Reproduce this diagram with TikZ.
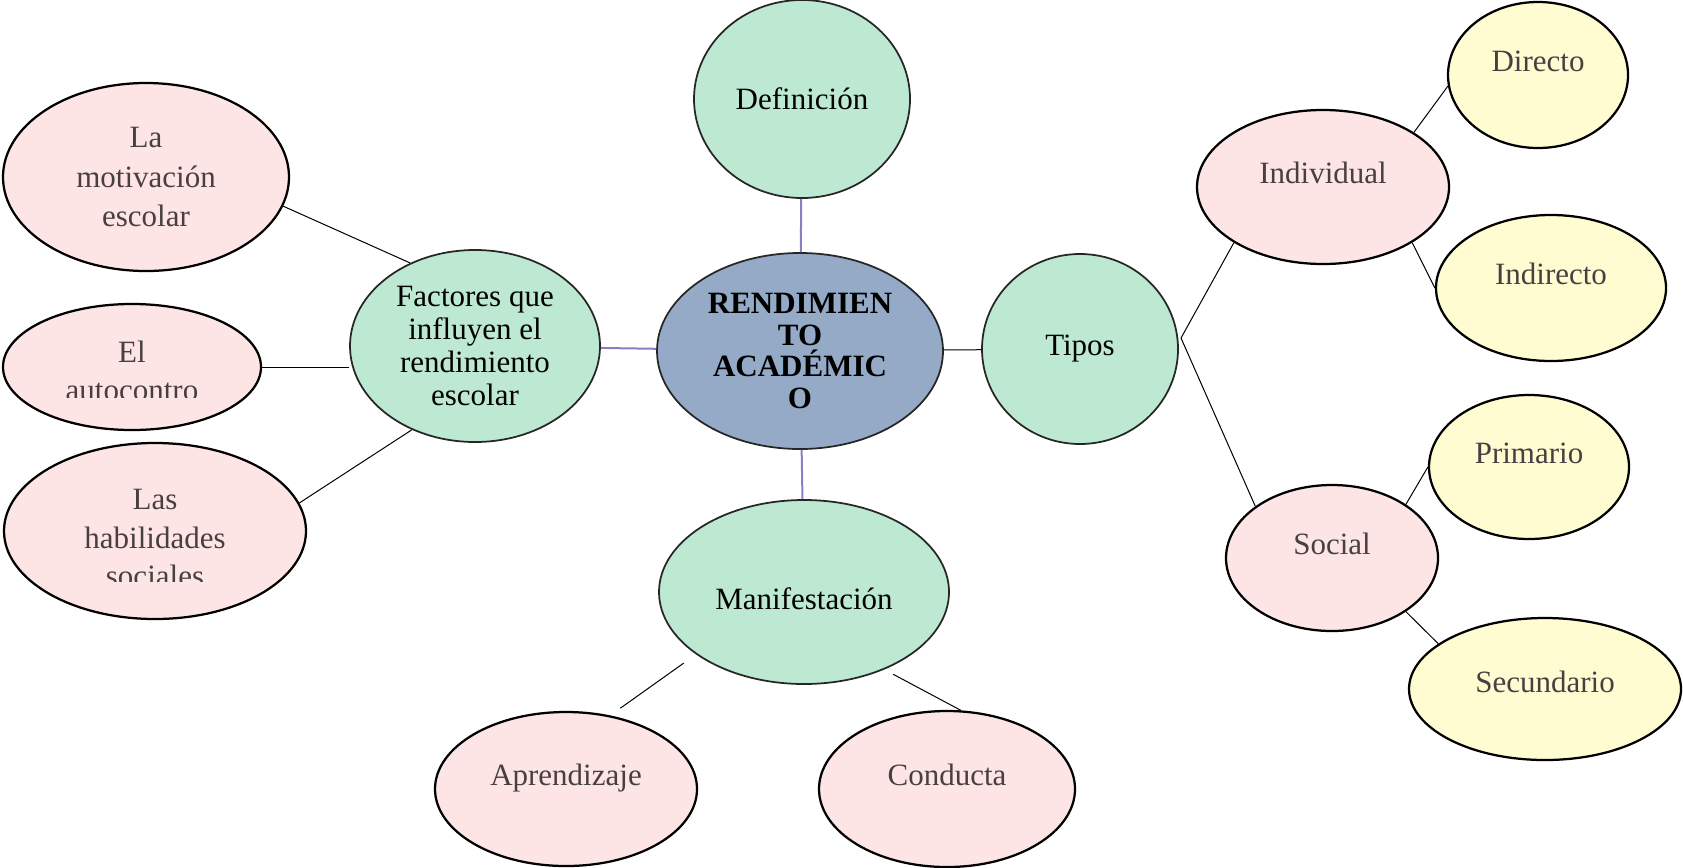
\documentclass[tikz,border=0pt]{standalone}
\usepackage{fontspec}
\setmainfont{Liberation Serif}
\usetikzlibrary{shapes.geometric}
\definecolor{hubblue}{RGB}{148,170,199}
\definecolor{topicgreen}{RGB}{189,232,210}
\definecolor{leafpink}{RGB}{253,229,230}
\definecolor{leafyellow}{RGB}{255,252,210}
\definecolor{leafgray}{RGB}{72,64,64}
\definecolor{linkpurple}{RGB}{142,124,195}

\begin{document}
\begin{tikzpicture}[
        x=0.4pt, y=-0.4pt,
        blob/.style={ellipse, inner sep=0pt, align=center, font=\fontsize{12.4}{13.2}\selectfont},
        hub/.style={blob, draw=black!85, line width=0.7pt, fill=hubblue, font=\bfseries\fontsize{12.4}{12.7}\selectfont},
        topic/.style={blob, draw=black!85, line width=0.7pt, fill=topicgreen},
        leaf/.style={blob, draw=black, line width=0.9pt, fill=leafpink, text=leafgray},
        subleaf/.style={leaf, fill=leafyellow},
        oneline/.style={text height=9pt, text depth=12pt},
        leaftext/.style={align=center, text=leafgray, inner sep=0pt, font=\fontsize{12.4}{15.5}\selectfont},
        link/.style={line width=0.4pt},
        mainlink/.style={line width=0.8pt, linkpurple}
    ]
    \useasboundingbox (0,0) rectangle (1683,867);

    % Centre and main topics
    \node[hub, minimum width=114.4pt, minimum height=78.4pt] (rend) at (800,351) {RENDIMIEN\\TO\\ACADÉMIC\\O};
    \node[topic, minimum width=86.4pt, minimum height=79.2pt] (def) at (802,99) {Definición};
    \node[topic, minimum width=78.4pt, minimum height=76pt] (tipos) at (1080,349) {Tipos};
    \node[topic, minimum width=100pt, minimum height=76.8pt] (fact) at (475,346) {Factores que\\influyen el\\rendimiento\\escolar};
    \node[topic, minimum width=116pt, minimum height=73.6pt, text height=14pt, text depth=0pt] (manif) at (804,592) {Manifestación};

    % Factores
    \node[leaf, minimum width=114.4pt, minimum height=75.2pt, font=\fontsize{12.4}{15.7}\selectfont] (motiv) at (146,177) {La\\motivación\\escolar};
    \node[leaf, minimum width=103.2pt, minimum height=50.4pt] (autoc) at (132,367) {};
    \node[leaf, minimum width=120.8pt, minimum height=70.4pt] (habil) at (155,531) {};
    \begin{scope}
        \clip (0,300) rectangle (300,397.5);
        \node[leaftext] (autotxt) at (132,371) {El\\autocontro};
    \end{scope}
    \begin{scope}
        \clip (0,450) rectangle (320,581);
        \node[leaftext] (habtxt) at (155,538) {Las\\habilidades\\sociales};
    \end{scope}

    % Manifestación
    \node[leaf, oneline, minimum width=104.8pt, minimum height=61.6pt] (aprend) at (566,789) {Aprendizaje};
    \node[leaf, oneline, minimum width=102.4pt, minimum height=62.4pt] (conduc) at (947,789) {Conducta};

    % Tipos
    \node[leaf, oneline, minimum width=100.8pt, minimum height=61.6pt] (indiv) at (1323,187) {Individual};
    \node[leaf, oneline, minimum width=84.8pt, minimum height=58.4pt] (social) at (1332,558) {Social};
    \node[subleaf, oneline, minimum width=72pt, minimum height=58.4pt] (direc) at (1538,75) {Directo};
    \node[subleaf, oneline, minimum width=92pt, minimum height=58.4pt] (indir) at (1551,288) {Indirecto};
    \node[subleaf, oneline, minimum width=80pt, minimum height=57.6pt] (prim) at (1529,467) {Primario};
    \node[subleaf, text height=9pt, text depth=6pt, minimum width=108.8pt, minimum height=56.8pt] (secun) at (1545,689) {Secundario};

    % Links
    \draw[mainlink] (rend) -- (def);
    \draw[mainlink] (rend) -- (manif);
    \draw[mainlink] (rend) -- (fact);
    \draw[link] (rend) -- (tipos);

    \draw[link] (motiv.-12) -- (fact.128);
    \draw[link] (autoc.east) -- (autoc.east -| fact.west);
    \draw[link] (habil.11) -- (fact.233);

    \draw[link, shorten <=5pt, shorten >=6pt] (aprend.59) -- (manif.210);
    \draw[link, shorten <=4pt] (manif.-44) -- (conduc.80);

    \coordinate (fork) at (1181,338);
    \draw[link] (fork) -- (indiv.212);
    \draw[link] (fork) -- (social.146);
    \draw[link] (indiv.31) -- (direc.187);
    \draw[link] (indiv.-32) -- (indir.west);
    \draw[link] (social.36) -- (prim.west);
    \draw[link] (social.-36) -- (secun.157);

\end{tikzpicture}
\end{document}
